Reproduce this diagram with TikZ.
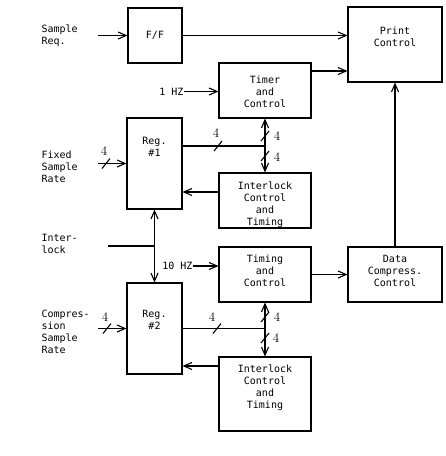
\documentclass[tikz,border=0pt]{standalone}
\usepackage{fontspec}
\setmonofont{DejaVu Sans Mono}
\usetikzlibrary{arrows.meta,positioning}

\tikzset{
  blk/.style={draw, inner sep=0pt},
  txt/.style={font=\ttfamily\fontsize{10}{12}\selectfont, align=center, inner sep=0pt},
  lbl/.style={font=\ttfamily\fontsize{10}{12}\selectfont, align=left, anchor=west, inner sep=0pt},
  num/.style={font=\fontsize{13}{13}\selectfont, inner sep=0pt},
}

\begin{document}
\begin{tikzpicture}[x=1pt, y=-1pt, line width=1.1pt, >={Straight Barb[length=8pt,width=7pt]}]
\useasboundingbox (0,0) rectangle (446,456);
% blocks
\node[blk, minimum width=54pt, minimum height=55pt] (ff) at (155,35.5) {};
\node[blk, minimum width=94pt, minimum height=75pt] (print) at (395,44.5) {};
\node[blk, minimum width=92pt, minimum height=55pt] (timer) at (265,90.5) {};
\node[blk, minimum width=55pt, minimum height=91pt] (reg1) at (154.5,163.5) {};
\node[blk, minimum width=92pt, minimum height=55pt] (ilc1) at (265,200.5) {};
\node[blk, minimum width=92pt, minimum height=55pt] (tc) at (265,274.5) {};
\node[blk, minimum width=94pt, minimum height=55pt] (dcc) at (395,274.5) {};
\node[blk, minimum width=55pt, minimum height=91pt] (reg2) at (154.5,328.5) {};
\node[blk, minimum width=92pt, minimum height=74pt] (ilc2) at (265,394) {};
% block texts
\node[txt] (ff-t) at (ff) {F/F};
\node[txt] (print-t) at ([yshift=8pt]print.center) {Print\\Control};
\node[txt] (timer-t) at ([yshift=-1pt]timer.center) {Timer\\and\\Control};
\node[txt] (reg1-t) at ([yshift=16.5pt]reg1.center) {Reg.\\\#1};
\node[txt] (ilc1-t) at ([yshift=-4.5pt]ilc1.center) {Interlock\\Control\\and\\Timing};
\node[txt] (tc-t) at ([yshift=3.5pt]tc.center) {Timing\\and\\Control};
\node[txt] (dcc-t) at ([yshift=3.5pt]dcc.center) {Data\\Compress.\\Control};
\node[txt] (reg2-t) at ([yshift=9pt]reg2.center) {Reg.\\\#2};
\node[txt] (ilc2-t) at ([yshift=6.5pt]ilc2.center) {Interlock\\Control\\and\\Timing};
% inputs
\node[lbl] (sreq) at (41,36) {Sample\\Req.};
\node[lbl] (fsr) at (41,167) {Fixed\\Sample\\Rate};
\node[lbl] (ilk) at (41,244) {Inter-\\lock};
\node[lbl] (csr) at (41,332) {Compres-\\sion\\Sample\\Rate};
\node[txt, anchor=east] (hz1) at (184,91.5) {1 HZ};
\node[txt, anchor=east] (hz10) at (193,266) {10 HZ};
\coordinate (sreq-o) at (98,35.5);
\coordinate (fsr-o) at (98,163.5);
\coordinate (ilk-o) at (108,246);
\coordinate (csr-o) at (98,328.5);
\coordinate (bus1) at (265,146);
\coordinate (bus2) at (265,328.5);
% connectors
\draw[->] (sreq-o) -- (ff.west);
\draw[->] (ff) -- (ff -| print.west);
\draw[->] ([yshift=19.5pt]timer.east) -- ([yshift=19.5pt]timer.east -| print.west);
\draw[->] (dcc) -- (print);
\draw[->] (hz1.east) -- (hz1.east -| timer.west);
\draw[->] (fsr-o) -- (reg1.west);
\draw (reg1.east |- bus1) -- (bus1);
\draw[<->] (timer) -- (ilc1);
\draw[->] ([yshift=8.5pt]ilc1.west) -- ([yshift=8.5pt]ilc1.west -| reg1.east);
\draw[<->] (reg1) -- (reg2);
\draw (ilk-o) -- (ilk-o -| reg1.south);
\draw[->] (hz10.east) -- (hz10.east -| tc.west);
\draw[->] (tc) -- (dcc);
\draw[->] (csr-o) -- (reg2.west);
\draw (reg2) -- (bus2);
\draw[<->] (tc) -- (ilc2);
\draw[->] ([yshift=28pt]ilc2.west) -- ([yshift=28pt]ilc2.west -| reg2.east);
% bus widths
\foreach \x/\y in {106/163.5, 218/146, 265/136, 265/156, 107/328.5, 217/328.5, 265/317, 265/338}
  \draw[shift={(\x,\y)}] (-4,5) -- (4,-5);
\foreach \x/\y [count=\i] in {104/151, 216/133, 277/136, 277/157, 105/317, 212/317, 277/317, 276/338}
  \node[num] (n\i) at (\x,\y) {4};
\end{tikzpicture}
\end{document}
